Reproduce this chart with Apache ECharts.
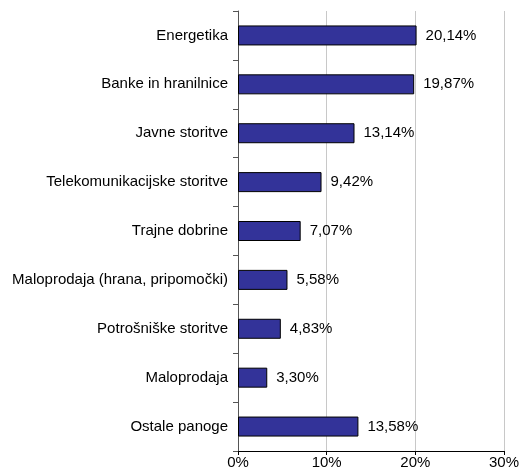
<!DOCTYPE html>
<html>
<head>
<meta charset="utf-8">
<script src="https://cdn.jsdelivr.net/npm/echarts@6/dist/echarts.min.js"></script>
<style>
  html, body { margin: 0; padding: 0; background: #fff; }
  #myChart { width: 519px; height: 472px; }
</style>
</head>
<body>
<div id="myChart"></div>
<script>
  // panoge in deleži (%)
  var categories = [
    'Energetika',
    'Banke in hranilnice',
    'Javne storitve',
    'Telekomunikacijske storitve',
    'Trajne dobrine',
    'Maloprodaja (hrana, pripomočki)',
    'Potrošniške storitve',
    'Maloprodaja',
    'Ostale panoge'
  ];
  var values = [20.14, 19.87, 13.14, 9.42, 7.07, 5.58, 4.83, 3.30, 13.58];
  var xTicks = [0, 10, 20, 30];

  var myChart = echarts.init(document.getElementById('myChart'));
  var fontFamily = 'Liberation Sans, Arial, sans-serif';
  var fontSize = 15;

  myChart.setOption({
    animation: false,
    backgroundColor: '#fff',
    grid: {
      left: 238,
      right: 15,
      top: 11,
      bottom: 21,
      outerBoundsMode: 'none'
    },
    xAxis: {
      type: 'value',
      min: xTicks[0],
      max: xTicks[xTicks.length - 1],
      interval: 10,
      axisLine: { show: true, lineStyle: { color: '#000', width: 1 } },
      axisTick: { show: true, length: 4, lineStyle: { color: '#000' } },
      axisLabel: {
        color: '#000',
        fontFamily: fontFamily,
        fontSize: fontSize,
        margin: 4,
        formatter: function (v) { return v + '%'; }
      },
      splitLine: { show: true, lineStyle: { color: '#c8c8c8', width: 1 } }
    },
    yAxis: {
      type: 'category',
      inverse: true,
      data: categories,
      axisLine: { show: true, lineStyle: { color: '#555', width: 1 } },
      axisTick: { show: true, length: 5, lineStyle: { color: '#555' } },
      axisLabel: {
        color: '#000',
        fontFamily: fontFamily,
        fontSize: fontSize,
        margin: 10
      }
    },
    series: [
      {
        type: 'bar',
        data: values,
        barWidth: 20,
        itemStyle: {
          color: '#333399',
          borderColor: '#000',
          borderWidth: 1
        },
        label: {
          show: true,
          position: 'right',
          distance: 9,
          color: '#000',
          fontFamily: fontFamily,
          fontSize: fontSize,
          formatter: function (p) { return p.value.toFixed(2).replace('.', ',') + '%'; }
        }
      }
    ]
  });
</script>
</body>
</html>
